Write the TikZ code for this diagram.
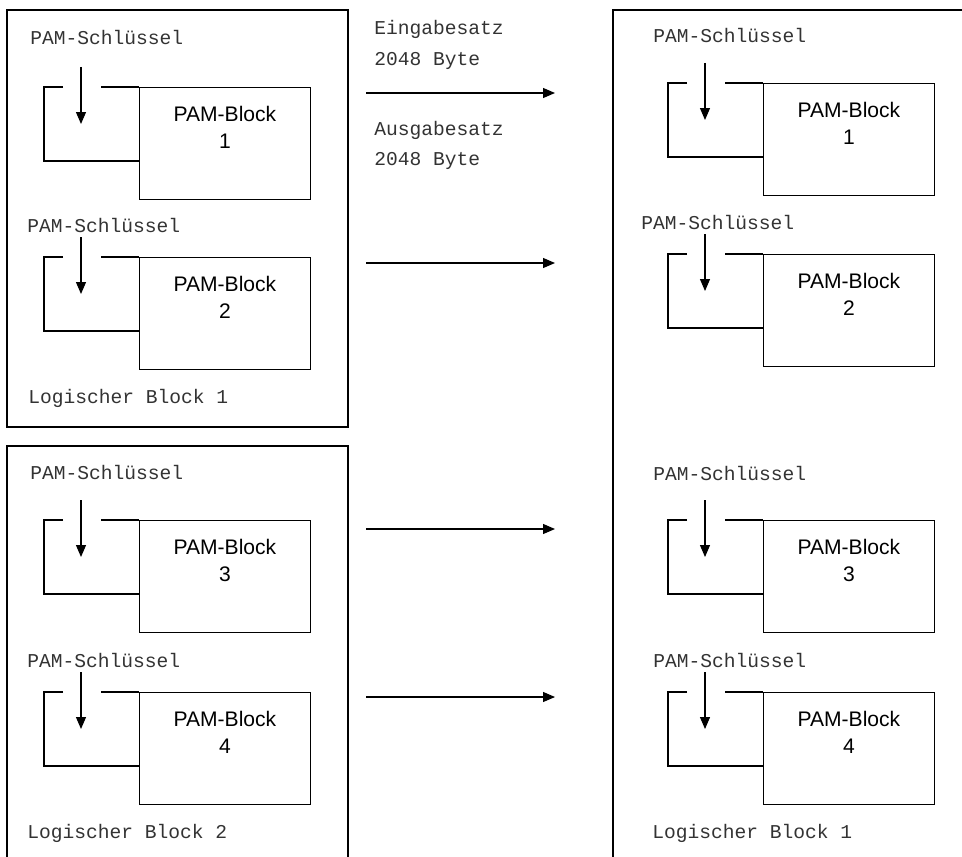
\documentclass[tikz,border=0pt]{standalone}
\usepackage{fontspec}
\setmainfont{Liberation Sans}
\newfontfamily\keyfont{Liberation Mono}
\usetikzlibrary{positioning, arrows.meta}
\tikzset{
    pamblock/.style={rectangle, draw=black, line width=0.9pt, minimum width=128pt, minimum height=84pt, inner sep=0pt},
    blocklabel/.style={align=center, inner sep=0pt, font=\fontsize{15.8}{20.25}\selectfont},
    keytext/.style={inner sep=0pt, anchor=base west, text=black!80, font=\keyfont\fontsize{14.7}{22.5}\selectfont},
    arrow/.style={line width=0.9pt, -{Triangle[length=9pt, width=7.5pt]}},
    frame/.style={line width=0.9pt}
}

\begin{document}
\begin{tikzpicture}[x=0.75pt, y=-0.75pt]
        \useasboundingbox (0,0) rectangle (962,856);
        \clip (0,0) rectangle (962,856);

        % logische Bloecke
        \draw[frame] (7,10) rectangle (348,427);
        \draw[frame] (7,870) -- (7,446) -- (348,446) -- (348,870);
        \draw[frame] (613,870) -- (613,10) -- (975,10);

        % PAM-Bloecke mit Schluessel
        \foreach \s/\dx/\by/\tx/\ty/\nr in {l1/0/87/30/45/1, l2/0/257/27/232/2, l3/0/520/30/479/3, l4/0/692/27/667/4,
                                             r1/624/83/653/43/1, r2/624/254/641/229/2, r3/624/520/653/480/3, r4/624/692/653/667/4}{
            \node[keytext] (key-\s) at (\tx,\ty) {PAM-Schlüssel};
            \node[pamblock, anchor=north west] (blk-\s) at (\dx+139,\by) {};
            \node[blocklabel, below=14pt of blk-\s.north] (lbl-\s) {PAM-Block\\\nr};
            \draw[frame] (\dx+63,\by) -| (\dx+44,\by+74) -- (\dx+139,\by+74);
            \draw[frame] (\dx+101,\by) -- (blk-\s.north west);
            \coordinate (ptr-\s) at (\dx+81,\by-20);
            \coordinate (tip-\s) at (\dx+81,\by+37);
            \draw[arrow] (ptr-\s) -- (tip-\s);
        }

        \node[keytext] (logl1) at (28,403) {Logischer Block 1};
        \node[keytext] (logl2) at (27,838) {Logischer Block 2};
        \node[keytext] (logr1) at (652,838) {Logischer Block 1};

        % Uebertragung
        \foreach \n/\y in {1/93, 2/263, 3/529, 4/697}{
            \coordinate (from-\n) at (366,\y);
            \coordinate (to-\n) at (555,\y);
            \draw[arrow] (from-\n) -- (to-\n);
        }

        \node[keytext] (ein) at (374,35) {Eingabesatz};
        \node[keytext] (einbyte) at (374,65) {2048 Byte};
        \node[keytext] (aus) at (374,135) {Ausgabesatz};
        \node[keytext] (ausbyte) at (374,165) {2048 Byte};
    \end{tikzpicture}
\end{document}
